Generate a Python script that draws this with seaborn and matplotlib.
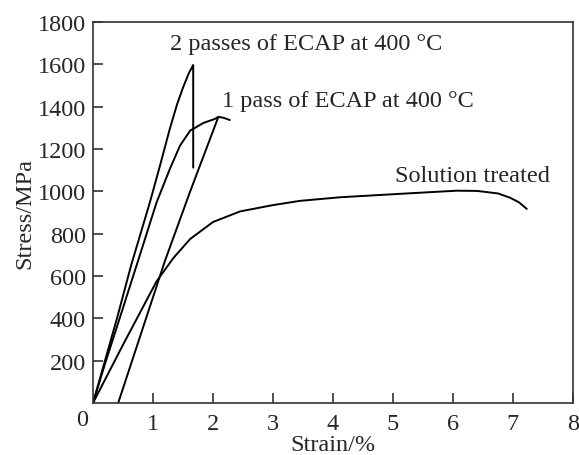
import matplotlib
matplotlib.use("Agg")
import matplotlib.pyplot as plt
import seaborn as sns
import pandas as pd

# Data
two_pass_strain = [0, 0.2, 0.4, 0.64, 0.95, 1.12, 1.28, 1.4, 1.5, 1.6, 1.67, 1.67]
two_pass_stress = [0, 200, 400, 655, 950, 1125, 1295, 1410, 1490, 1560, 1597, 1112]

one_pass_strain = [0, 0.2, 0.45, 0.76, 1.06, 1.28, 1.45, 1.62, 1.84, 2.03, 2.09, 2.18, 2.28]
one_pass_stress = [0, 185, 405, 680, 948, 1105, 1216, 1287, 1323, 1342, 1352, 1347, 1337]

offset_strain = [0.42, 1.2, 1.62, 2.09]
offset_stress = [0, 672, 1000, 1352]

sol_strain = [0, 0.5, 1.06, 1.34, 1.62, 2.0, 2.45, 3.0, 3.45, 4.12, 5.23, 6.06, 6.4, 6.75, 6.95, 7.1, 7.23]
sol_stress = [0, 275, 575, 685, 775, 855, 905, 935, 955, 972, 990, 1003, 1002, 990, 970, 948, 917]

x_ticks = [1, 2, 3, 4, 5, 6, 7, 8]
y_ticks = [200, 400, 600, 800, 1000, 1200, 1400, 1600, 1800]

sns.set_theme(style="white")
plt.rcParams['font.family'] = ['Liberation Serif', 'DejaVu Serif']

fig = plt.figure(figsize=(5.79, 4.56), dpi=100)
ax = fig.add_axes([93/579, 1 - 404/456, (573-93)/579, (404-23)/456])

lw = 1.4
for xs, ys in [(two_pass_strain, two_pass_stress), (one_pass_strain, one_pass_stress),
               (offset_strain, offset_stress), (sol_strain, sol_stress)]:
    df = pd.DataFrame({"strain": xs, "stress": ys})
    sns.lineplot(data=df, x="strain", y="stress", sort=False, color="black",
                 linewidth=lw, ax=ax, estimator=None)

ax.set_xlim(0, 8)
ax.set_ylim(0, 1800)
ax.set_xticks(x_ticks)
ax.set_yticks(y_ticks)
ax.tick_params(axis='both', direction='in', length=7, width=1.2, color='#333333',
               labelsize=17.5, top=False, right=False, bottom=True, left=True)
ax.tick_params(axis='x', pad=7)
ax.tick_params(axis='y', pad=5)
for s in ax.spines.values():
    s.set_color('#333333')
    s.set_linewidth(1.2)

ax.set_xlabel("Strain/%", fontsize=17.5, va='baseline')
ax.xaxis.set_label_coords(0.5, (404 - 451) / 381)
ax.set_ylabel("Stress/MPa", fontsize=17.5, labelpad=2)
ax.text(-0.08, -6/381*1800, "0", fontsize=17.5, ha='right', va='top')

ax.text(1.28, 1672, "2 passes of ECAP at 400 \u00b0C", fontsize=17.5, ha='left', va='baseline')
ax.text(2.15, 1403, "1 pass of ECAP at 400 \u00b0C", fontsize=17.5, ha='left', va='baseline')
ax.text(5.03, 1049, "Solution treated", fontsize=17.5, ha='left', va='baseline')

fig.savefig("out.png", dpi=100)
